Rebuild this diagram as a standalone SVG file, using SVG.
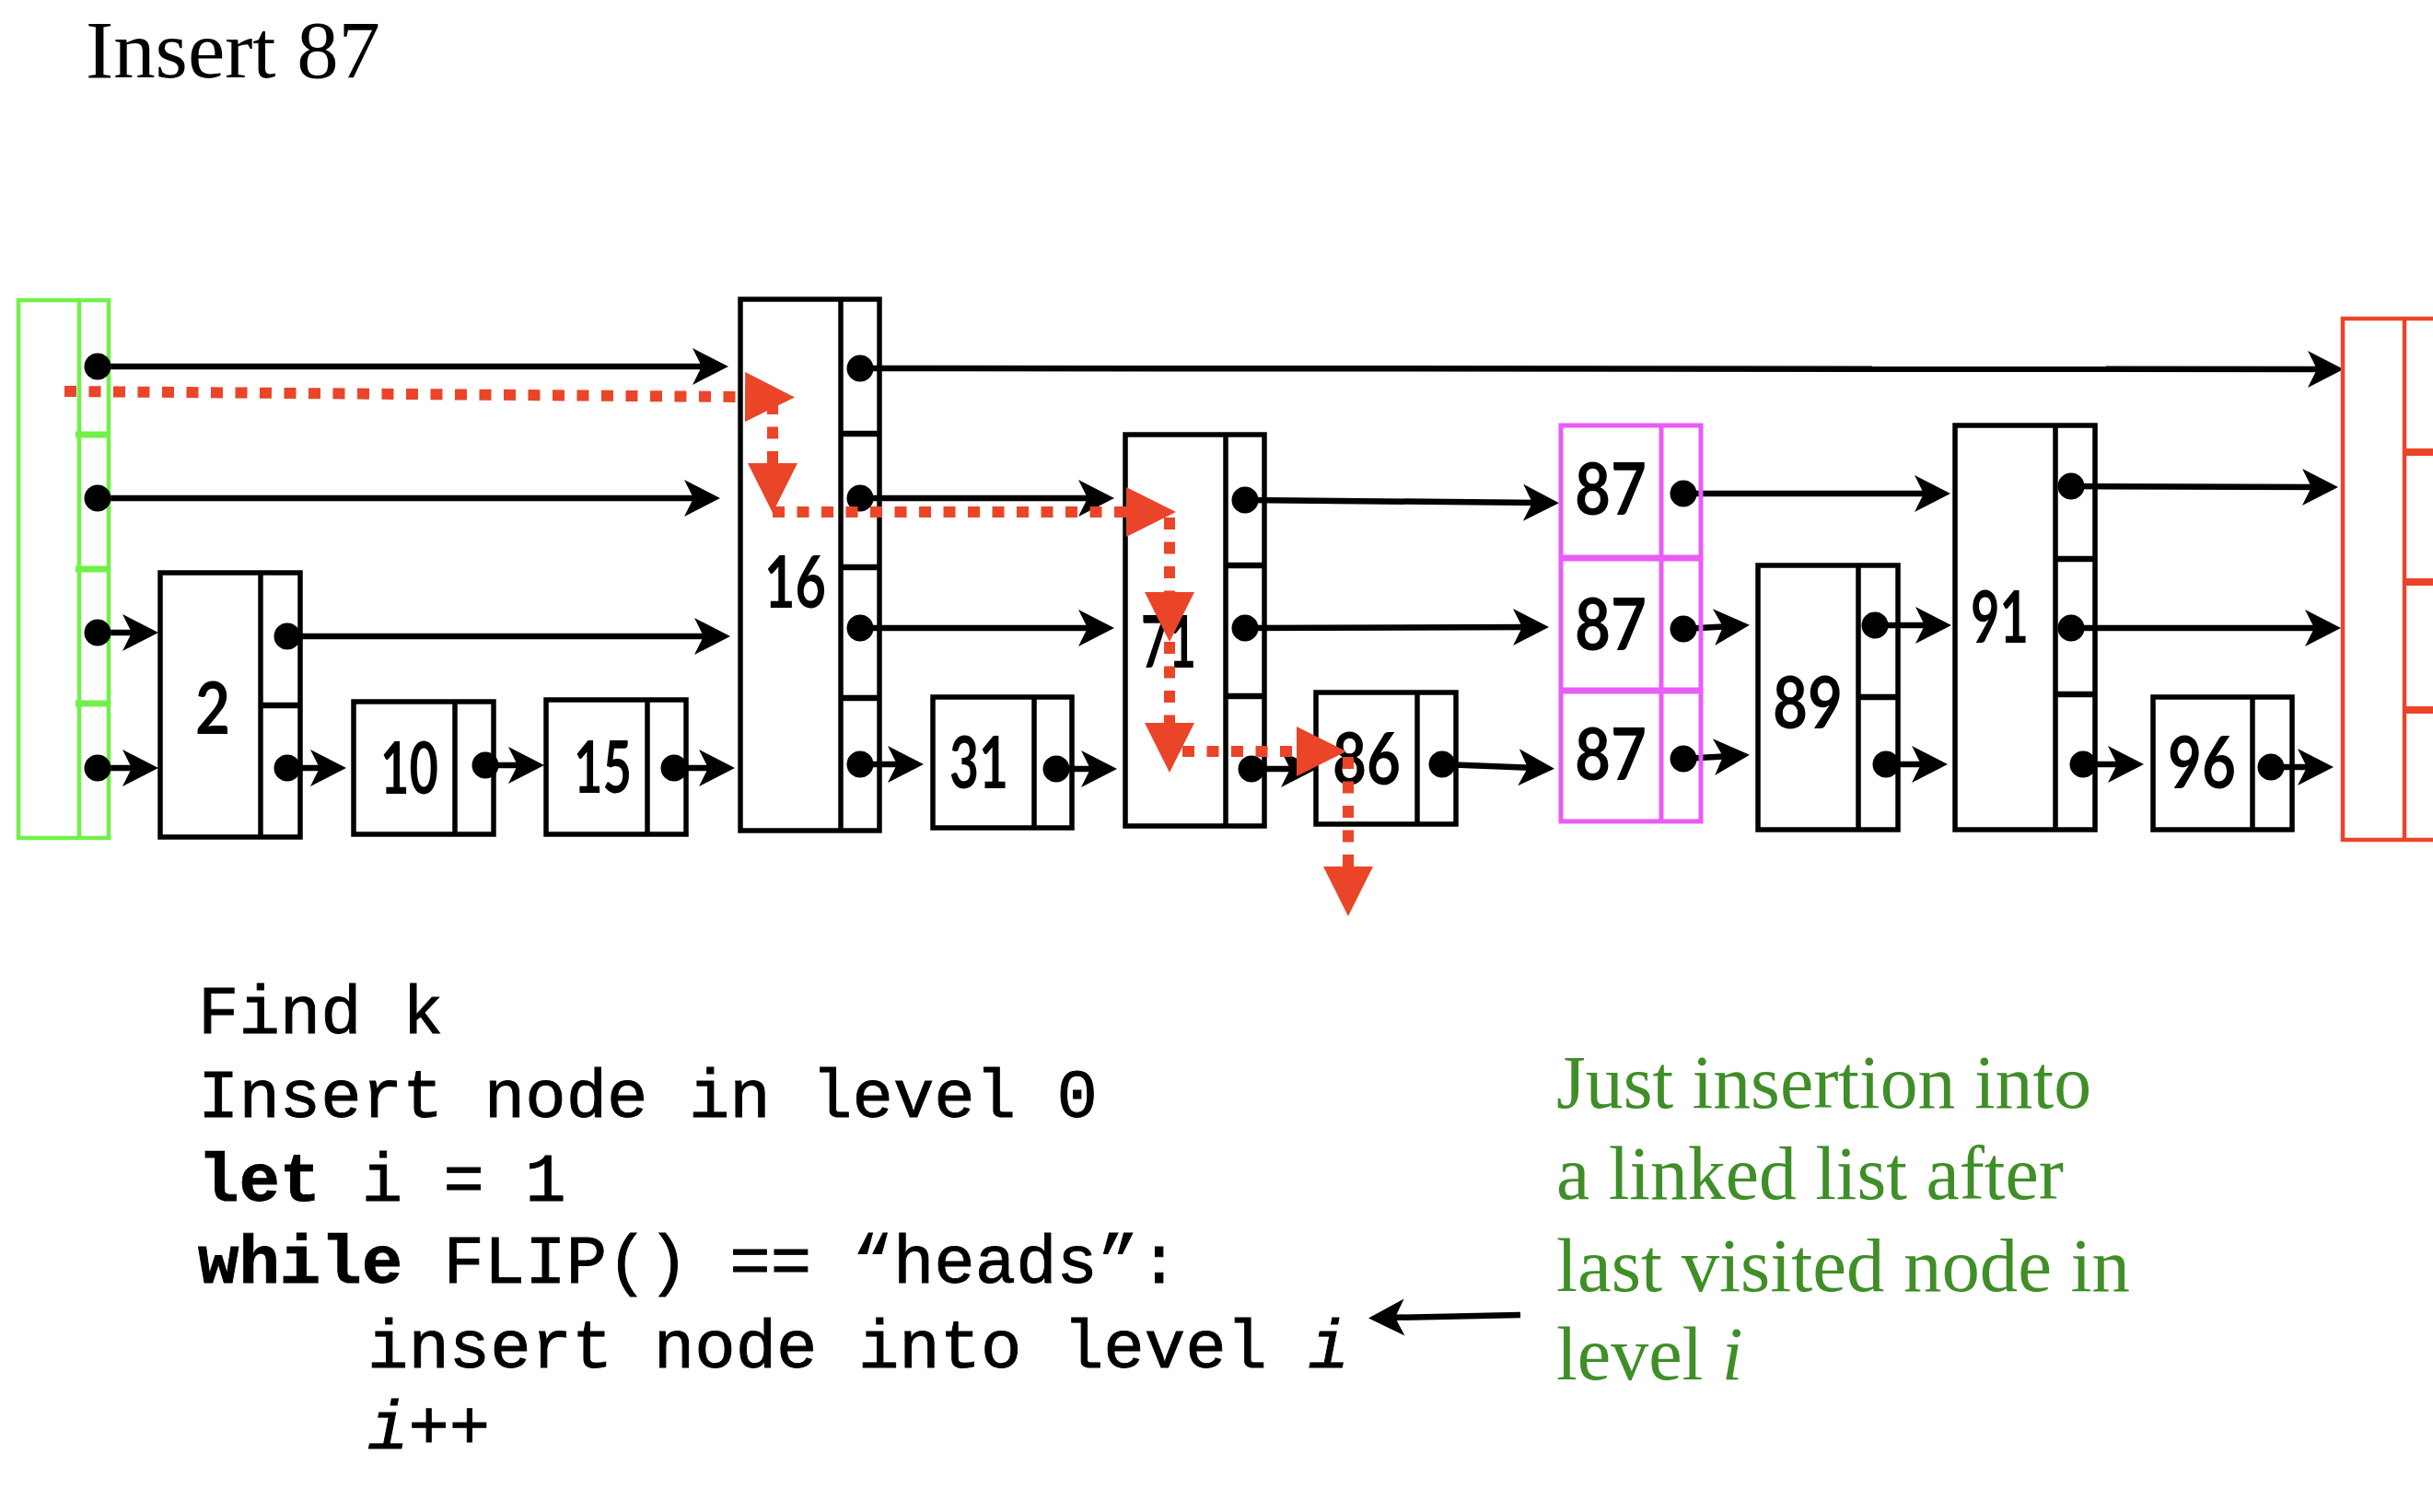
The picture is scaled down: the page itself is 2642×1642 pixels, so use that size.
<svg xmlns="http://www.w3.org/2000/svg" width="2642" height="1642" viewBox="0 0 2642 1642">
  <style>
    .box { fill: none; stroke: #000; stroke-width: 5.5; }
    .sep { stroke: #000; stroke-width: 5.5; }
    .hsep { stroke: #000; stroke-width: 6.5; }
    .dot { fill: #000; }
    .key { font-family: "Lato", "Open Sans", sans-serif; font-size: 78px; font-weight: bold; fill: #000; }
    .link { stroke: #000; stroke-width: 6.5; fill: none; marker-end: url(#barb); }
    .path { stroke: #EA4529; stroke-width: 12; fill: none; stroke-dasharray: 13 13.5; marker-end: url(#tri); }
    .title { font-family: "Liberation Serif", "Times New Roman", serif; font-size: 88px; fill: #000; }
    .code { font-family: "Liberation Mono", "Courier New", monospace; font-size: 74px; fill: #000; stroke: #000; stroke-width: 0.9; }
    .kw { font-weight: bold; }
    .note { font-family: "Liberation Serif", "Times New Roman", serif; font-size: 82px; fill: #3F8E27; }
  </style>
  <defs>
    <!-- barbed black arrowhead; the tip sits 20px past the line end -->
    <marker id="barb" markerUnits="userSpaceOnUse" markerWidth="46" markerHeight="46" viewBox="-20 -23 44 46" refX="0" refY="0" orient="auto">
      <path d="M20,0 L-19,-20 L-9,0 L-19,20 Z" fill="#000"/>
    </marker>
    <!-- solid red triangle for the search path; line ends at its base -->
    <marker id="tri" markerUnits="userSpaceOnUse" markerWidth="56" markerHeight="56" viewBox="0 -28 56 56" refX="0" refY="0" orient="auto">
      <path d="M0,-27 L54,0 L0,27 Z" fill="#EA4529"/>
    </marker>
  </defs>

  <text class="title" x="93" y="84" textLength="320" lengthAdjust="spacingAndGlyphs">Insert 87</text>

  <!-- forward pointers -->
  <g id="links">
    <!-- level 3 -->
    <line class="link" x1="106" y1="398" x2="771" y2="398"/>
    <line class="link" x1="934" y1="400" x2="2525" y2="401"/>
    <!-- level 2 -->
    <line class="link" x1="106" y1="541" x2="762" y2="541"/>
    <line class="link" x1="934" y1="541" x2="1190" y2="541"/>
    <line class="link" x1="1352" y1="543" x2="1673" y2="546"/>
    <line class="link" x1="1828" y1="536" x2="2098" y2="536"/>
    <line class="link" x1="2249" y1="528" x2="2519" y2="529"/>
    <!-- level 1 -->
    <line class="link" x1="106" y1="687" x2="152" y2="687"/>
    <line class="link" x1="312" y1="691" x2="773" y2="691"/>
    <line class="link" x1="934" y1="682" x2="1190" y2="682"/>
    <line class="link" x1="1352" y1="682" x2="1662" y2="681"/>
    <line class="link" x1="1828" y1="683" x2="1880" y2="680"/>
    <line class="link" x1="2036" y1="679" x2="2099" y2="679"/>
    <line class="link" x1="2249" y1="682" x2="2522" y2="682"/>
    <!-- level 0 -->
    <line class="link" x1="106" y1="834" x2="152" y2="834"/>
    <line class="link" x1="312" y1="834" x2="356" y2="834"/>
    <line class="link" x1="527" y1="831" x2="571" y2="831"/>
    <line class="link" x1="732" y1="834" x2="778" y2="834"/>
    <line class="link" x1="934" y1="830" x2="983" y2="830"/>
    <line class="link" x1="1147" y1="835" x2="1193" y2="835"/>
    <line class="link" x1="1359" y1="835" x2="1410" y2="835"/>
    <line class="link" x1="1566" y1="830" x2="1668" y2="834"/>
    <line class="link" x1="1828" y1="824" x2="1880" y2="821"/>
    <line class="link" x1="2048" y1="830" x2="2095" y2="830"/>
    <line class="link" x1="2262" y1="830" x2="2308" y2="830"/>
    <line class="link" x1="2466" y1="833" x2="2514" y2="833"/>
    <!-- annotation pointer -->
    <line class="link" x1="1651" y1="1428" x2="1506" y2="1431"/>
  </g>

  <!-- head sentinel -->
  <g id="head">
    <rect x="20" y="326" width="98" height="584" fill="none" stroke="#72F04A" stroke-width="4.5"/>
    <line x1="86" y1="326" x2="86" y2="910" stroke="#72F04A" stroke-width="4.5"/>
    <g stroke="#72F04A" stroke-width="7">
      <line x1="82" y1="472" x2="118" y2="472"/>
      <line x1="82" y1="618" x2="118" y2="618"/>
      <line x1="82" y1="764" x2="118" y2="764"/>
    </g>
    <circle class="dot" cx="106" cy="398" r="14.5"/>
    <circle class="dot" cx="106" cy="541" r="14.5"/>
    <circle class="dot" cx="106" cy="687" r="14.5"/>
    <circle class="dot" cx="106" cy="834" r="14.5"/>
  </g>

  <g id="node-2">
    <rect class="box" x="174" y="622" width="152" height="287"/>
    <line class="sep" x1="283" y1="622" x2="283" y2="909"/>
    <line class="hsep" x1="283" y1="766" x2="326" y2="766"/>
    <text class="key" x="212" y="797" textLength="38" lengthAdjust="spacingAndGlyphs">2</text>
    <circle class="dot" cx="312" cy="691" r="14.5"/>
    <circle class="dot" cx="312" cy="834" r="14.5"/>
  </g>

  <g id="node-10">
    <rect class="box" x="384" y="762" width="152" height="144"/>
    <line class="sep" x1="494" y1="762" x2="494" y2="906"/>
    <text class="key" x="413" y="862" textLength="63" lengthAdjust="spacingAndGlyphs">10</text>
    <circle class="dot" cx="527" cy="831" r="14.5"/>
  </g>

  <g id="node-15">
    <rect class="box" x="593" y="760" width="152" height="146"/>
    <line class="sep" x1="703" y1="760" x2="703" y2="906"/>
    <text class="key" x="623" y="861" textLength="63" lengthAdjust="spacingAndGlyphs">15</text>
    <circle class="dot" cx="732" cy="834" r="14.5"/>
  </g>

  <g id="node-16">
    <rect class="box" x="804" y="325" width="151" height="577"/>
    <line class="sep" x1="913" y1="325" x2="913" y2="902"/>
    <line class="hsep" x1="913" y1="471" x2="955" y2="471"/>
    <line class="hsep" x1="913" y1="616" x2="955" y2="616"/>
    <line class="hsep" x1="913" y1="758" x2="955" y2="758"/>
    <text class="key" x="830" y="660" textLength="67" lengthAdjust="spacingAndGlyphs">16</text>
    <circle class="dot" cx="934" cy="400" r="14.5"/>
    <circle class="dot" cx="934" cy="541" r="14.5"/>
    <circle class="dot" cx="934" cy="682" r="14.5"/>
    <circle class="dot" cx="934" cy="830" r="14.5"/>
  </g>

  <g id="node-31">
    <rect class="box" x="1013" y="757" width="151" height="142"/>
    <line class="sep" x1="1123" y1="757" x2="1123" y2="899"/>
    <text class="key" x="1031" y="856" textLength="64" lengthAdjust="spacingAndGlyphs">31</text>
    <circle class="dot" cx="1147" cy="835" r="14.5"/>
  </g>

  <g id="node-71">
    <rect class="box" x="1222" y="472" width="151" height="425"/>
    <line class="sep" x1="1331" y1="472" x2="1331" y2="897"/>
    <line class="hsep" x1="1331" y1="614" x2="1373" y2="614"/>
    <line class="hsep" x1="1331" y1="756" x2="1373" y2="756"/>
    <text class="key" x="1239" y="725" textLength="60" lengthAdjust="spacingAndGlyphs">71</text>
    <circle class="dot" cx="1352" cy="543" r="14.5"/>
    <circle class="dot" cx="1352" cy="682" r="14.5"/>
    <circle class="dot" cx="1359" cy="835" r="14.5"/>
  </g>

  <g id="node-86">
    <rect class="box" x="1429" y="752" width="152" height="143"/>
    <line class="sep" x1="1539" y1="752" x2="1539" y2="895"/>
    <text class="key" x="1447" y="852" textLength="74" lengthAdjust="spacingAndGlyphs">86</text>
    <circle class="dot" cx="1566" cy="830" r="14.5"/>
  </g>

  <!-- newly inserted tower -->
  <g id="node-87">
    <rect x="1695" y="462" width="152" height="430" fill="none" stroke="#E95CF5" stroke-width="5"/>
    <line x1="1804" y1="462" x2="1804" y2="892" stroke="#E95CF5" stroke-width="5"/>
    <line x1="1695" y1="606" x2="1847" y2="606" stroke="#E95CF5" stroke-width="7"/>
    <line x1="1695" y1="750" x2="1847" y2="750" stroke="#E95CF5" stroke-width="7"/>
    <text class="key" x="1710" y="559" textLength="78" lengthAdjust="spacingAndGlyphs">87</text>
    <text class="key" x="1710" y="706" textLength="78" lengthAdjust="spacingAndGlyphs">87</text>
    <text class="key" x="1710" y="847" textLength="78" lengthAdjust="spacingAndGlyphs">87</text>
    <circle class="dot" cx="1828" cy="536" r="14.5"/>
    <circle class="dot" cx="1828" cy="683" r="14.5"/>
    <circle class="dot" cx="1828" cy="824" r="14.5"/>
  </g>

  <g id="node-89">
    <rect class="box" x="1909" y="614" width="152" height="287"/>
    <line class="sep" x1="2018" y1="614" x2="2018" y2="901"/>
    <line class="hsep" x1="2018" y1="757" x2="2061" y2="757"/>
    <text class="key" x="1925" y="791" textLength="76" lengthAdjust="spacingAndGlyphs">89</text>
    <circle class="dot" cx="2036" cy="679" r="14.5"/>
    <circle class="dot" cx="2048" cy="830" r="14.5"/>
  </g>

  <g id="node-91">
    <rect class="box" x="2123" y="462" width="152" height="439"/>
    <line class="sep" x1="2232" y1="462" x2="2232" y2="901"/>
    <line class="hsep" x1="2232" y1="607" x2="2275" y2="607"/>
    <line class="hsep" x1="2232" y1="754" x2="2275" y2="754"/>
    <text class="key" x="2140" y="698" textLength="63" lengthAdjust="spacingAndGlyphs">91</text>
    <circle class="dot" cx="2249" cy="528" r="14.5"/>
    <circle class="dot" cx="2249" cy="682" r="14.5"/>
    <circle class="dot" cx="2262" cy="830" r="14.5"/>
  </g>

  <g id="node-96">
    <rect class="box" x="2338" y="757" width="151" height="144"/>
    <line class="sep" x1="2446" y1="757" x2="2446" y2="901"/>
    <text class="key" x="2354" y="856" textLength="74" lengthAdjust="spacingAndGlyphs">96</text>
    <circle class="dot" cx="2466" cy="833" r="14.5"/>
  </g>

  <!-- tail sentinel -->
  <g id="nil">
    <rect x="2544" y="346" width="130" height="566" fill="none" stroke="#EA4529" stroke-width="4.5"/>
    <line x1="2611" y1="346" x2="2611" y2="912" stroke="#EA4529" stroke-width="4.5"/>
    <g stroke="#EA4529" stroke-width="8">
      <line x1="2611" y1="491" x2="2642" y2="491"/>
      <line x1="2611" y1="632" x2="2642" y2="632"/>
      <line x1="2611" y1="771" x2="2642" y2="771"/>
    </g>
  </g>

  <!-- search path for 87 -->
  <g id="search-path">
    <line class="path" x1="70" y1="425" x2="809" y2="431"/>
    <line class="path" x1="839" y1="437" x2="839" y2="503"/>
    <line class="path" x1="839" y1="556" x2="1223" y2="556"/>
    <line class="path" x1="1270" y1="562" x2="1270" y2="643"/>
    <line class="path" x1="1270" y1="697" x2="1270" y2="785"/>
    <line class="path" x1="1284" y1="816" x2="1408" y2="816"/>
    <line class="path" x1="1464" y1="822" x2="1464" y2="941"/>
  </g>

  <!-- pseudocode -->
  <g id="code" class="code">
    <text x="215" y="1122">Find k</text>
    <text x="215" y="1213">Insert node in level 0</text>
    <text x="215" y="1304"><tspan class="kw">let</tspan> i = 1</text>
    <text x="215" y="1393"><tspan class="kw">while</tspan> FLIP() == “heads”:</text>
    <text x="399" y="1485">insert node into level <tspan font-style="italic">i</tspan></text>
    <text x="399" y="1573"><tspan font-style="italic">i</tspan>++</text>
  </g>

  <!-- annotation -->
  <g id="note" class="note">
    <text x="1690" y="1203" textLength="581" lengthAdjust="spacingAndGlyphs">Just insertion into</text>
    <text x="1690" y="1302" textLength="551" lengthAdjust="spacingAndGlyphs">a linked list after</text>
    <text x="1690" y="1402" textLength="623" lengthAdjust="spacingAndGlyphs">last visited node in</text>
    <text x="1690" y="1498">level <tspan font-style="italic">i</tspan></text>
  </g>
</svg>
